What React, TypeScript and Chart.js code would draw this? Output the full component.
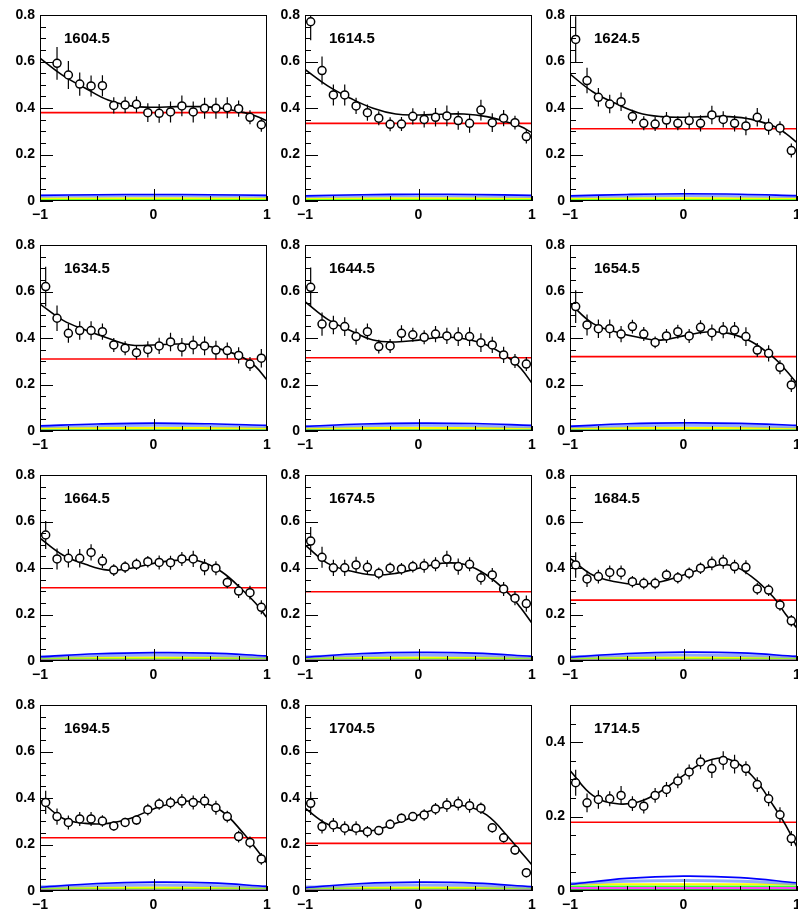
import React, { useEffect, useRef } from 'react';
import { Chart, registerables } from 'chart.js';
Chart.register(...registerables);

const panelTitles = ['1604.5', '1614.5', '1624.5', '1634.5', '1644.5', '1654.5', '1664.5', '1674.5', '1684.5', '1694.5', '1704.5', '1714.5'];

const binCenters = [-0.95, -0.85, -0.75, -0.65, -0.55, -0.45, -0.35, -0.25, -0.15, -0.05, 0.05, 0.15, 0.25, 0.35, 0.45, 0.55, 0.65, 0.75, 0.85, 0.95];

const pointY: (number | null)[][] = [
  [null, 0.592, 0.542, 0.503, 0.495, 0.496, 0.411, 0.413, 0.416, 0.380, 0.377, 0.383, 0.409, 0.383, 0.399, 0.399, 0.401, 0.397, 0.360, 0.328],
  [0.771, 0.561, 0.456, 0.456, 0.409, 0.380, 0.356, 0.330, 0.331, 0.364, 0.351, 0.360, 0.366, 0.346, 0.334, 0.391, 0.337, 0.356, 0.337, 0.277],
  [0.695, 0.518, 0.446, 0.417, 0.427, 0.363, 0.334, 0.331, 0.348, 0.334, 0.346, 0.334, 0.370, 0.351, 0.334, 0.323, 0.360, 0.320, 0.313, 0.217],
  [0.621, 0.485, 0.420, 0.432, 0.432, 0.427, 0.370, 0.356, 0.337, 0.351, 0.366, 0.383, 0.360, 0.370, 0.366, 0.348, 0.346, 0.325, 0.288, 0.313],
  [0.618, 0.460, 0.456, 0.449, 0.406, 0.427, 0.363, 0.366, 0.420, 0.414, 0.403, 0.417, 0.409, 0.406, 0.406, 0.380, 0.370, 0.327, 0.301, 0.288],
  [0.535, 0.456, 0.440, 0.440, 0.417, 0.449, 0.417, 0.381, 0.409, 0.427, 0.409, 0.446, 0.423, 0.434, 0.434, 0.406, 0.348, 0.334, 0.274, 0.198],
  [0.542, 0.439, 0.442, 0.442, 0.467, 0.430, 0.391, 0.404, 0.416, 0.427, 0.424, 0.423, 0.439, 0.439, 0.404, 0.399, 0.338, 0.301, 0.294, 0.231],
  [0.516, 0.446, 0.401, 0.401, 0.413, 0.403, 0.377, 0.399, 0.396, 0.406, 0.410, 0.416, 0.439, 0.406, 0.416, 0.358, 0.370, 0.310, 0.270, 0.247],
  [0.413, 0.353, 0.363, 0.381, 0.381, 0.341, 0.334, 0.334, 0.370, 0.358, 0.377, 0.399, 0.420, 0.427, 0.406, 0.403, 0.310, 0.305, 0.241, 0.173],
  [0.381, 0.320, 0.295, 0.310, 0.310, 0.301, 0.280, 0.295, 0.305, 0.350, 0.374, 0.380, 0.387, 0.381, 0.387, 0.358, 0.320, 0.234, 0.209, 0.138],
  [0.377, 0.277, 0.284, 0.270, 0.270, 0.255, 0.260, 0.287, 0.313, 0.320, 0.327, 0.353, 0.370, 0.376, 0.367, 0.356, 0.272, 0.229, 0.176, 0.079],
  [0.291, 0.237, 0.246, 0.248, 0.257, 0.235, 0.228, 0.257, 0.273, 0.296, 0.320, 0.347, 0.329, 0.351, 0.341, 0.329, 0.286, 0.248, 0.205, 0.141],
];

const pointErr: number[][] = [
  [0, 0.07, 0.06, 0.05, 0.045, 0.045, 0.035, 0.035, 0.035, 0.04, 0.04, 0.045, 0.045, 0.045, 0.045, 0.045, 0.045, 0.035, 0.03, 0.03],
  [0.08, 0.06, 0.045, 0.045, 0.035, 0.035, 0.03, 0.03, 0.03, 0.035, 0.035, 0.04, 0.045, 0.04, 0.04, 0.045, 0.04, 0.035, 0.03, 0.03],
  [0.1, 0.055, 0.04, 0.04, 0.04, 0.03, 0.03, 0.03, 0.035, 0.03, 0.035, 0.035, 0.04, 0.035, 0.035, 0.04, 0.04, 0.035, 0.03, 0.03],
  [0.085, 0.055, 0.04, 0.04, 0.04, 0.035, 0.03, 0.03, 0.03, 0.035, 0.035, 0.04, 0.04, 0.04, 0.04, 0.04, 0.035, 0.035, 0.03, 0.04],
  [0.085, 0.05, 0.04, 0.04, 0.035, 0.035, 0.03, 0.03, 0.035, 0.03, 0.03, 0.035, 0.035, 0.04, 0.04, 0.04, 0.035, 0.035, 0.03, 0.03],
  [0.07, 0.045, 0.04, 0.04, 0.035, 0.03, 0.03, 0.025, 0.03, 0.03, 0.03, 0.03, 0.035, 0.035, 0.035, 0.04, 0.03, 0.035, 0.03, 0.03],
  [0.06, 0.045, 0.04, 0.04, 0.035, 0.03, 0.025, 0.025, 0.025, 0.025, 0.03, 0.03, 0.03, 0.035, 0.035, 0.03, 0.025, 0.03, 0.03, 0.03],
  [0.06, 0.045, 0.035, 0.035, 0.035, 0.03, 0.025, 0.025, 0.025, 0.025, 0.03, 0.03, 0.035, 0.035, 0.03, 0.03, 0.03, 0.03, 0.03, 0.035],
  [0.055, 0.035, 0.03, 0.03, 0.03, 0.025, 0.025, 0.025, 0.025, 0.025, 0.025, 0.025, 0.03, 0.03, 0.03, 0.03, 0.025, 0.025, 0.025, 0.025],
  [0.05, 0.035, 0.03, 0.03, 0.03, 0.025, 0.02, 0.02, 0.02, 0.025, 0.025, 0.025, 0.03, 0.03, 0.03, 0.03, 0.025, 0.025, 0.025, 0.025],
  [0.05, 0.03, 0.03, 0.03, 0.03, 0.025, 0.02, 0.02, 0.02, 0.02, 0.025, 0.025, 0.03, 0.03, 0.03, 0.025, 0.02, 0.02, 0.02, 0.02],
  [0.035, 0.025, 0.025, 0.02, 0.025, 0.02, 0.02, 0.02, 0.02, 0.02, 0.02, 0.02, 0.025, 0.025, 0.025, 0.02, 0.02, 0.02, 0.02, 0.02],
];

const fitX = [-1, -0.8, -0.6, -0.4, -0.2, 0, 0.2, 0.4, 0.6, 0.8, 0.9, 1];
const fitY: number[][] = [
  [0.614, 0.540, 0.485, 0.434, 0.409, 0.403, 0.406, 0.406, 0.399, 0.380, 0.366, 0.345],
  [0.566, 0.495, 0.442, 0.399, 0.374, 0.370, 0.373, 0.374, 0.363, 0.337, 0.320, 0.294],
  [0.546, 0.470, 0.420, 0.380, 0.363, 0.360, 0.363, 0.363, 0.351, 0.320, 0.291, 0.251],
  [0.546, 0.477, 0.434, 0.399, 0.370, 0.370, 0.374, 0.370, 0.351, 0.313, 0.277, 0.219],
  [0.556, 0.480, 0.432, 0.391, 0.383, 0.391, 0.403, 0.397, 0.370, 0.313, 0.270, 0.205],
  [0.549, 0.463, 0.427, 0.403, 0.391, 0.409, 0.426, 0.420, 0.384, 0.313, 0.262, 0.205],
  [0.528, 0.456, 0.416, 0.391, 0.399, 0.420, 0.433, 0.430, 0.384, 0.298, 0.248, 0.186],
  [0.499, 0.420, 0.387, 0.370, 0.377, 0.399, 0.420, 0.416, 0.370, 0.287, 0.229, 0.162],
  [0.442, 0.370, 0.341, 0.330, 0.341, 0.370, 0.401, 0.413, 0.363, 0.270, 0.201, 0.141],
  [0.391, 0.313, 0.291, 0.291, 0.313, 0.353, 0.381, 0.384, 0.344, 0.244, 0.184, 0.119],
  [0.356, 0.287, 0.262, 0.260, 0.291, 0.327, 0.358, 0.367, 0.327, 0.227, 0.169, 0.112],
  [0.324, 0.257, 0.235, 0.239, 0.268, 0.311, 0.349, 0.354, 0.311, 0.226, 0.177, 0.118],
];

const redLevel = [0.380, 0.334, 0.311, 0.310, 0.315, 0.320, 0.315, 0.298, 0.262, 0.229, 0.205, 0.185];

const bgX = [-1, -0.5, 0, 0.5, 1];
const blueY: number[][] = [
  [0.024, 0.027, 0.028, 0.027, 0.024],
  [0.022, 0.027, 0.029, 0.028, 0.024],
  [0.022, 0.028, 0.031, 0.029, 0.023],
  [0.022, 0.030, 0.034, 0.031, 0.024],
  [0.020, 0.030, 0.034, 0.032, 0.024],
  [0.020, 0.031, 0.035, 0.033, 0.024],
  [0.018, 0.031, 0.036, 0.034, 0.022],
  [0.016, 0.032, 0.037, 0.034, 0.020],
  [0.016, 0.032, 0.038, 0.035, 0.020],
  [0.016, 0.032, 0.038, 0.035, 0.020],
  [0.014, 0.032, 0.038, 0.034, 0.018],
  [0.018, 0.034, 0.040, 0.036, 0.022],
];
const lightBlueY: number[][] = [
  [0.020, 0.022, 0.023, 0.022, 0.020],
  [0.019, 0.022, 0.023, 0.022, 0.019],
  [0.019, 0.022, 0.024, 0.022, 0.019],
  [0.019, 0.023, 0.025, 0.023, 0.019],
  [0.018, 0.023, 0.025, 0.023, 0.018],
  [0.018, 0.023, 0.025, 0.023, 0.018],
  [0.018, 0.024, 0.026, 0.024, 0.018],
  [0.018, 0.024, 0.026, 0.024, 0.018],
  [0.018, 0.024, 0.026, 0.024, 0.018],
  [0.018, 0.024, 0.026, 0.024, 0.018],
  [0.017, 0.024, 0.026, 0.024, 0.017],
  [0.020, 0.026, 0.028, 0.026, 0.020],
];
const yellowLevel = [0.012, 0.012, 0.012, 0.013, 0.013, 0.013, 0.015, 0.015, 0.015, 0.015, 0.015, 0.018];
const greenLevel = [0.008, 0.008, 0.008, 0.009, 0.009, 0.009, 0.010, 0.010, 0.010, 0.010, 0.010, 0.013];
const magentaLevel = [0.003, 0.003, 0.003, 0.004, 0.004, 0.004, 0.005, 0.005, 0.005, 0.005, 0.005, 0.008];
const darkGreenLevel = [0.001, 0.001, 0.001, 0.001, 0.001, 0.001, 0.001, 0.001, 0.001, 0.001, 0.001, 0.003];

const yMax = [0.8, 0.8, 0.8, 0.8, 0.8, 0.8, 0.8, 0.8, 0.8, 0.8, 0.8, 0.5];
const xTickValues = [-1, -0.75, -0.5, -0.25, 0, 0.25, 0.5, 0.75, 1];
const xTickLabels: Record<string, string> = { '-1': '\u22121', '0': '0', '1': '1' };
const yTickValues = [0, 0.05, 0.1, 0.15, 0.2, 0.25, 0.3, 0.35, 0.4, 0.45, 0.5, 0.55, 0.6, 0.65, 0.7, 0.75, 0.8];
const yTickLabels: Record<string, string> = { '0': '0', '0.2': '0.2', '0.4': '0.4', '0.6': '0.6', '0.8': '0.8' };

const FONT = '"Liberation Sans", Arial, Helvetica, sans-serif';

const rootFrame = {
  id: 'rootFrame',
  afterDraw(chart: any, _args: any, opts: any) {
    const { ctx, chartArea: a, scales } = chart;
    ctx.save();
    ctx.strokeStyle = '#000';
    ctx.lineWidth = 1;
    ctx.strokeRect(a.left + 0.5, a.top + 0.5, a.right - a.left - 1, a.bottom - a.top - 1);
    const xs = scales.x;
    ctx.beginPath();
    xs.ticks.forEach((t: any) => {
      const px = Math.round(xs.getPixelForValue(t.value)) + 0.5;
      const len = t.value === 0 ? 12 : 5;
      ctx.moveTo(px, a.bottom);
      ctx.lineTo(px, a.bottom - len);
    });
    const ys = scales.y;
    ys.ticks.forEach((t: any) => {
      const py = Math.round(ys.getPixelForValue(t.value)) + 0.5;
      const r = t.value / 0.2;
      const major = Math.abs(r - Math.round(r)) < 1e-6;
      const len = major ? 13 : 6;
      ctx.moveTo(a.left, py);
      ctx.lineTo(a.left + len, py);
    });
    ctx.stroke();
    ctx.fillStyle = '#000';
    ctx.font = 'bold 15px ' + FONT;
    ctx.textBaseline = 'middle';
    ctx.textAlign = 'left';
    ctx.fillText(opts.title, a.left + 24, a.top + 24);
    ctx.restore();
  },
};

function zeroPad(s: any) {
  s.paddingLeft = 0;
  s.paddingRight = 0;
  s.paddingTop = 0;
  s.paddingBottom = 0;
}

function makeConfig(idx: number): any {
  const pts: any[] = [];
  const errs: any[] = [];
  binCenters.forEach((x, i) => {
    const y = pointY[idx][i];
    if (y == null) return;
    pts.push({ x, y });
    const e = pointErr[idx][i];
    errs.push({ x, y: y - e }, { x, y: y + e }, { x, y: null });
  });
  const fit = fitX.map((x, i) => ({ x, y: fitY[idx][i] }));
  const level = (v: number) => [{ x: -1, y: v }, { x: 1, y: v }];
  const bg = (arr: number[]) => bgX.map((x, i) => ({ x, y: arr[i] }));
  const line = (data: any[], color: string, width: number, tension = 0) => ({
    data,
    borderColor: color,
    borderWidth: width,
    pointRadius: 0,
    tension,
    fill: false,
    spanGaps: false,
  });
  const yTicks = yTickValues.filter((v) => v <= yMax[idx] + 1e-9);
  return {
    type: 'line',
    data: {
      datasets: [
        {
          data: pts,
          showLine: false,
          pointRadius: 4,
          pointBorderWidth: 1.5,
          pointBorderColor: '#000',
          pointBackgroundColor: '#fff',
          borderColor: '#000',
          backgroundColor: '#fff',
        },
        line(errs, '#000', 1.2),
        line(fit, '#000', 1.6, 0.4),
        line(level(redLevel[idx]), '#ff0000', 1.6),
        line(bg(blueY[idx]), '#0000ff', 1.6, 0.4),
        line(bg(lightBlueY[idx]), 'rgba(110,140,255,0.75)', 3, 0.4),
        line(level(yellowLevel[idx]), '#ffff00', 2),
        line(level(greenLevel[idx]), '#33ff33', 1.5),
        line(level(magentaLevel[idx]), '#ff00ff', 1.6),
        line(level(darkGreenLevel[idx]), '#008800', 1.2),
      ],
    },
    options: {
      animation: false,
      responsive: false,
      devicePixelRatio: 1,
      events: [],
      layout: { padding: { top: 15, left: 0, right: 8, bottom: 0 } },
      plugins: {
        legend: { display: false },
        tooltip: { enabled: false },
        title: { display: false },
        rootFrame: { title: panelTitles[idx] },
      },
      scales: {
        x: {
          type: 'linear',
          min: -1,
          max: 1,
          grid: { display: false, drawTicks: false },
          border: { display: false },
          afterBuildTicks: (s: any) => {
            s.ticks = xTickValues.map((v) => ({ value: v }));
          },
          ticks: {
            autoSkip: false,
            maxRotation: 0,
            minRotation: 0,
            padding: 6,
            color: '#000',
            font: { family: FONT, size: 14, weight: 'bold' },
            callback: (v: number) => xTickLabels[String(v)] ?? '',
          },
          afterFit: (s: any) => {
            s.height = 29;
            zeroPad(s);
          },
        },
        y: {
          type: 'linear',
          min: 0,
          max: yMax[idx],
          grid: { display: false, drawTicks: false },
          border: { display: false },
          afterBuildTicks: (s: any) => {
            s.ticks = yTicks.map((v) => ({ value: v }));
          },
          ticks: {
            autoSkip: false,
            padding: 5,
            color: '#000',
            font: { family: FONT, size: 14, weight: 'bold' },
            callback: (v: number) => yTickLabels[String(Math.round(v * 100) / 100)] ?? '',
          },
          afterFit: (s: any) => {
            s.width = 40;
            zeroPad(s);
          },
        },
      },
    },
    plugins: [rootFrame],
  };
}

function Panel({ idx }: { idx: number }) {
  const ref = useRef<HTMLCanvasElement>(null);
  useEffect(() => {
    const chart = new Chart(ref.current as HTMLCanvasElement, makeConfig(idx));
    return () => chart.destroy();
  }, [idx]);
  const row = Math.floor(idx / 3);
  const col = idx % 3;
  return (
    <canvas
      ref={ref}
      width={275}
      height={230}
      style={{ position: 'absolute', left: col * 265, top: row * 230, width: 275, height: 230 }}
    />
  );
}

export default function App() {
  return (
    <div style={{ position: 'absolute', left: 0, top: 0, width: 798, height: 919, background: '#fff', overflow: 'hidden' }}>
      {panelTitles.map((_, i) => (
        <Panel key={i} idx={i} />
      ))}
    </div>
  );
}
